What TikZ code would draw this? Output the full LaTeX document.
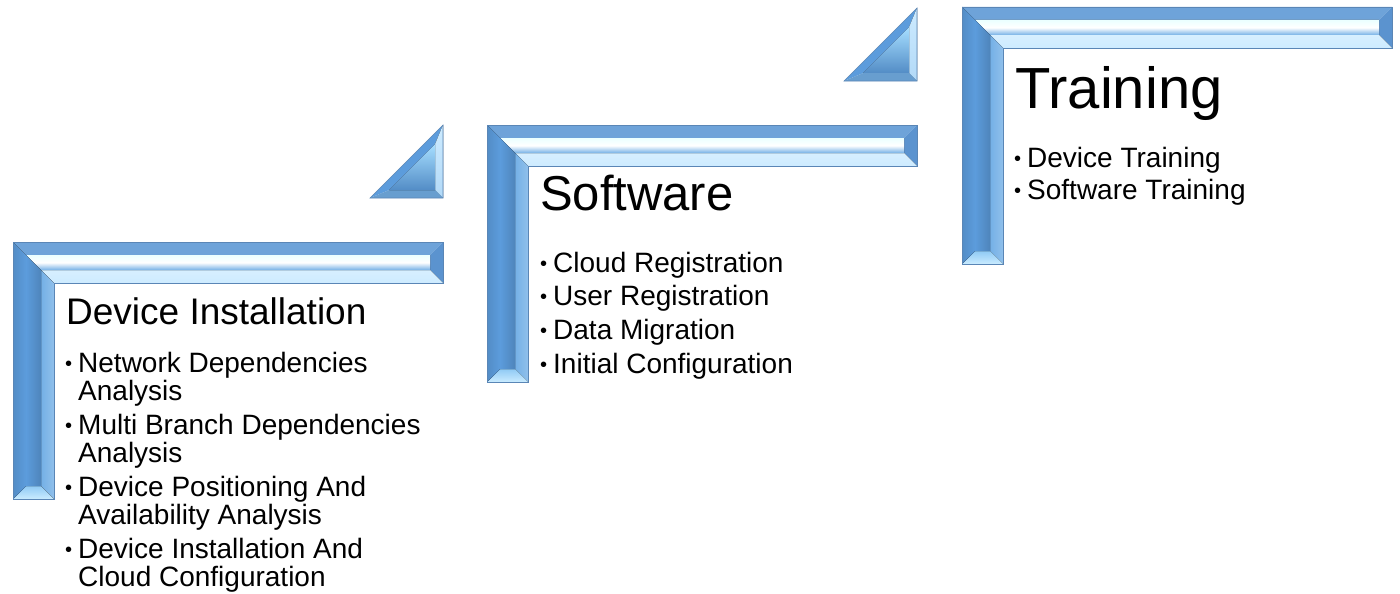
\documentclass[tikz,border=0pt]{standalone}
\usepackage{fontspec}
\setmainfont{Liberation Sans}
\definecolor{bvTop}{HTML}{6EA3D9}
\definecolor{bvEnd}{HTML}{5B93CF}
\definecolor{bvPale}{HTML}{CDEBFF}
\definecolor{bvLeft}{HTML}{5C9CDC}
\definecolor{bvRight}{HTML}{74B0E6}
\definecolor{bvFoot}{HTML}{A6DEFF}
\definecolor{bvEdge}{HTML}{5A86B6}
\tikzset{
  titletext/.style={anchor=base west, inner sep=0pt, text=black},
  itemtext/.style={anchor=base west, inner sep=0pt, text=black, font=\fontsize{28}{28}\selectfont},
}
\newcommand\bul{\llap{\raisebox{2pt}{\scalebox{0.72}{•}}\kern6pt}}
\newcommand\bevelL[2]{%
\begin{scope}[shift={(#1,#2)}]
  \fill[bvTop] (0,0) -- (430,0) -- (417,13) -- (13,13) -- cycle;
  \fill[bvEnd] (430,0) -- (430,41) -- (417,28) -- (417,13) -- cycle;
  \fill[top color=bvPale!80!white, bottom color=bvPale] (430,41) -- (41,41) -- (28,28) -- (417,28) -- cycle;
  \fill[left color=bvRight, right color=bvRight!80!white] (41,41) -- (41,257) -- (28,244) -- (28,28) -- cycle;
  \fill[top color=bvFoot!70!bvLeft, bottom color=bvFoot!60!white] (41,257) -- (0,257) -- (13,244) -- (28,244) -- cycle;
  \fill[left color=bvLeft!90!black, right color=bvLeft] (0,257) -- (0,0) -- (13,13) -- (13,244) -- cycle;
  \fill[top color=cyan!8!white, bottom color=bvRight, middle color=white] (13,13) -- (417,13) -- (417,28) -- (28,28) -- cycle;
  \fill[left color=bvLeft, right color=bvLeft!85!black] (13,13) -- (28,28) -- (28,244) -- (13,244) -- cycle;
  \draw[bvEdge, line width=0.8pt, line join=miter] (0,0) -- (430,0) -- (430,41) -- (41,41) -- (41,257) -- (0,257) -- cycle;
\end{scope}}
\newcommand\bevelT[2]{%
\begin{scope}[shift={(#1,#2)}]
  \fill[bvLeft] (357,-44) -- (430,-117) -- (422,-97.7) -- (376.3,-52) -- cycle;
  \fill[top color=bvPale, bottom color=bvPale!70!bvRight] (430,-117) -- (430,-44) -- (422,-52) -- (422,-97.7) -- cycle;
  \fill[bvRight!90!black] (430,-44) -- (357,-44) -- (376.3,-52) -- (422,-52) -- cycle;
  \fill[shading angle=45, top color=bvFoot, bottom color=bvLeft!90!black] (376.3,-52) -- (422,-97.7) -- (422,-52) -- cycle;
  \draw[bvEdge, line width=0.6pt] (357,-44) -- (430,-117) -- (430,-44) -- cycle;
\end{scope}}
\begin{document}
\begin{tikzpicture}[x=1pt,y=-1pt]
\useasboundingbox (0,0) rectangle (1400,594);
\fill[white] (0,0) rectangle (1400,594);
\bevelL{13}{242}
\bevelT{13}{242}
\bevelL{487}{125}
\bevelT{487}{125}
\bevelL{962}{7}
% Device Installation
\node[titletext, font=\fontsize{37}{37}\selectfont] (t1) at (66,324) {Device Installation};
\node[itemtext] (a1) at (78,372) {\bul Network Dependencies};
\node[itemtext] (a1b) at (78,400) {Analysis};
\node[itemtext] (a2) at (78,434) {\bul Multi Branch Dependencies};
\node[itemtext] (a2b) at (78,462) {Analysis};
\node[itemtext] (a3) at (78,496) {\bul Device Positioning And};
\node[itemtext] (a3b) at (78,524) {Availability Analysis};
\node[itemtext] (a4) at (78,558) {\bul Device Installation And};
\node[itemtext] (a4b) at (78,586) {Cloud Configuration};
% Software
\node[titletext, font=\fontsize{49}{49}\selectfont] (t2) at (540,210) {Software};
\node[itemtext] (b1) at (553,272) {\bul Cloud Registration};
\node[itemtext] (b2) at (553,305) {\bul User Registration};
\node[itemtext] (b3) at (553,339) {\bul Data Migration};
\node[itemtext] (b4) at (553,373) {\bul Initial Configuration};
% Training
\node[titletext, font=\fontsize{58}{58}\selectfont] (t3) at (1015,108) {Training};
\node[itemtext] (c1) at (1027,167) {\bul Device Training};
\node[itemtext] (c2) at (1027,199) {\bul Software Training};
\end{tikzpicture}
\end{document}
